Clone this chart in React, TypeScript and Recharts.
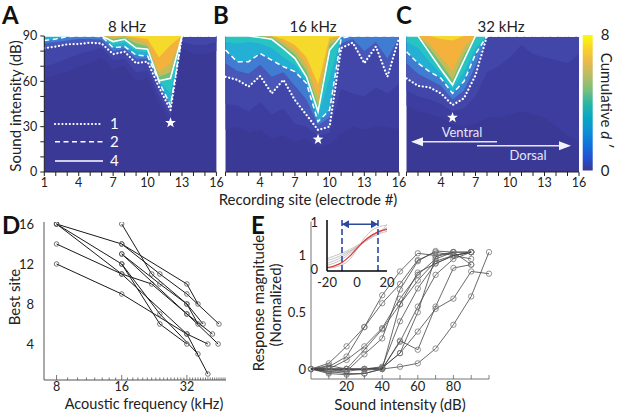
import React from 'react';
import {
  ComposedChart, Area, Line, XAxis, YAxis, Scatter, ScatterChart, BarChart, Bar, ReferenceLine,
} from 'recharts';

const FONT = "Lato, 'Open Sans', 'DejaVu Sans', sans-serif";
const INK = '#222';

// ---------- Heatmaps (A, B, C) ----------
const siteNums = [1, 2, 3, 4, 5, 6, 7, 8, 9, 10, 11, 12, 13, 14, 15, 16];
const dbTicks = [0, 10, 20, 30, 40, 50, 60, 70, 80, 90];
const dbLabels = [0, 30, 60, 90];
const siteLabelsA = [1, 4, 7, 10, 13, 16];
const siteLabelsBC = [4, 7, 10, 13, 16];
const HEAT_TOP = 90;
const HEAT_FLOOR = 0;
// cumulative d' levels whose contour (in dB) is listed per site
const dLevels = [0.2, 0.5, 1, 1.5, 2, 3, 4, 5, 6, 7];
const baseFill = '#3a3996';
const levelFills = ['#3d3d9f', '#4146a8', '#4857b8', '#3f7cd2', '#23b0d4', '#27c4c2', '#6dc07e', '#c4bc58', '#f4b23c', '#f5da2c'];

const contours8kHz = [
  [62, 64, 66, 70, 72, 76, 68, 70, 60, 62, 45, 33, 82, 78, 78, 80],
  [70, 72, 75, 78, 80, 82, 74, 75, 66, 67, 50, 37, 86, 84, 84, 86],
  [82, 83, 84.5, 84.7, 85.6, 85, 78, 79.6, 72, 73, 56, 41, 90, 90, 90, 90],
  [85, 86, 87, 88, 88, 87.5, 80, 81.5, 75, 75, 58, 42.5, 90, 90, 90, 90],
  [87, 88, 89.6, 90, 90, 89.6, 82.3, 83, 77.4, 76.8, 59.7, 44, 90, 90, 90, 90],
  [90, 90, 90, 90, 90, 90, 84, 85.5, 80, 79, 60, 52, 90, 90, 90, 90],
  [90, 90, 90, 90, 90, 90, 86.3, 87.8, 82, 81.2, 60.4, 62, 90, 90, 90, 90],
  [90, 90, 90, 90, 90, 90, 88, 89, 85, 83, 63, 66, 90, 90, 90, 90],
  [90, 90, 90, 90, 90, 90, 89.5, 90, 88, 85, 66, 72, 90, 90, 90, 90],
  [90, 90, 90, 90, 90, 90, 90, 90, 89, 88, 76, 84, 90, 90, 90, 90],
];
const contours16kHz = [
  [28, 30, 26, 28, 22, 24, 20, 22, 16, 18, 25, 30, 28, 30, 30, 28],
  [45, 44, 40, 46, 38, 42, 32, 30, 24, 26, 55, 52, 50, 56, 52, 58],
  [63, 61, 56.5, 63.5, 52, 61, 47.6, 37.7, 27.8, 30, 82, 85.6, 72, 83, 63, 88.5],
  [72, 67, 65, 71, 63, 66, 57, 48, 31, 36, 85, 88, 80, 86, 75, 89],
  [80.7, 73, 73, 78.5, 74, 69.7, 66.4, 58.7, 33.3, 41, 88.5, 90, 90, 90, 90, 90],
  [86, 85, 86, 85, 82, 76, 71, 61, 37, 62, 90, 90, 90, 90, 90, 90],
  [90, 90, 90, 89, 87.8, 81.8, 75.2, 63, 40, 80.7, 90, 90, 90, 90, 90, 90],
  [90, 90, 90, 90, 89, 84, 78, 67, 44, 84, 90, 90, 90, 90, 90, 90],
  [90, 90, 90, 90, 90, 86, 81, 71, 50, 87, 90, 90, 90, 90, 90, 90],
  [90, 90, 90, 90, 90, 88, 84, 76, 58, 89, 90, 90, 90, 90, 90, 90],
];
const contours32kHz = [
  [44, 40, 38, 36, 32, 30, 32, 36, 36, 38, 40, 38, 36, 30, 24, 20],
  [54, 50, 48, 45, 40, 42, 50, 66, 70, 76, 84, 78, 76, 74, 72, 78],
  [62, 57, 56, 52, 44.3, 48.8, 64, 90, 90, 90, 90, 90, 90, 90, 90, 90],
  [72, 65, 61, 57, 48, 54, 70, 90, 90, 90, 90, 90, 90, 90, 90, 90],
  [79.6, 72, 66.4, 62, 52, 60, 78, 90, 90, 90, 90, 90, 90, 90, 90, 90],
  [86, 82, 73, 65, 55, 66, 82, 90, 90, 90, 90, 90, 90, 90, 90, 90],
  [90, 90, 79, 68, 57.6, 74, 90, 90, 90, 90, 90, 90, 90, 90, 90, 90],
  [90, 90, 82, 72, 61, 78, 90, 90, 90, 90, 90, 90, 90, 90, 90, 90],
  [90, 90, 85, 76, 67, 83, 90, 90, 90, 90, 90, 90, 90, 90, 90, 90],
  [90, 90, 90, 88, 87, 90, 90, 90, 90, 90, 90, 90, 90, 90, 90, 90],
];
const bestSite8kHz = [{ site: 12, db: 32.6 }];
const bestSite16kHz = [{ site: 9, db: 21.6 }];
const bestSite32kHz = [{ site: 5, db: 36 }];

const cbarMax = 8;
const cbarTicks = [0, 8];
const parulaStops = ['#3a3996', '#2053d4', '#0d75dc', '#0c93d2', '#07a9c2', '#2eb7a4', '#7cbf7b', '#b7bd64', '#e9b94e', '#f9d32a', '#f9fb0e'];

// ---------- Panel D ----------
const freqMajor = [8, 16, 32];
const freqTicks = [8, 9, 10, 11, 12, 13, 14, 15, 16, 17, 18, 19, 20, 21, 22, 23, 24, 25, 26, 27, 28, 29, 30, 31, 32, 33, 34, 35, 36, 37, 38, 39, 40, 41, 42, 43, 44, 45, 46, 47, 48];
const bestSiteTicks = [4, 8, 12, 16];
const bestSiteTracks: number[][][] = [
  [[8, 16], [16, 14], [32, 10], [36, 8]],
  [[8, 16], [16, 12], [24, 7], [36, 3]],
  [[8, 16], [16, 11], [32, 5], [40, 1]],
  [[8, 14], [16, 11], [22, 10], [32, 7], [44.6, 4]],
  [[8, 12], [16, 9], [32, 5], [40, 4]],
  [[16, 16], [22, 11], [32, 8], [38, 6]],
  [[16, 14], [24, 11], [32, 9], [45, 6]],
  [[16, 13], [24, 10], [32, 8], [36, 6]],
  [[16, 13], [32, 7], [42, 5]],
  [[16, 12], [24, 6], [32, 4]],
];

// ---------- Panel E ----------
const intensityDb = [0, 10, 20, 30, 40, 50, 60, 70, 80, 90, 100];
const intensityTicks = [10, 20, 30, 40, 50, 60, 70, 80, 90, 100];
const intensityLabels = [20, 40, 60, 80];
const responseTicks = [0, 0.5, 1];
const responseCurves: (number | null)[][] = [
  [0, 0.05, 0.2, 0.37, 0.58, 0.75, 0.96, 1.03, 1.0, 1.03, null],
  [0, 0.02, 0.11, 0.37, 0.65, 0.86, 1.02, 1.0, 1.03, null, null],
  [0, 0.0, 0.08, 0.2, 0.36, 0.62, 0.83, 0.97, 1.03, 1.03, null],
  [0, -0.02, 0.0, 0.17, 0.35, 0.57, 0.78, 0.95, 1.0, 1.03, null],
  [0, 0.0, -0.02, 0.13, 0.27, 0.7, 0.95, 1.04, 1.03, 1.03, null],
  [0, -0.03, -0.02, 0.0, 0.02, 0.42, 0.71, 0.93, 1.0, 1.03, null],
  [0, -0.04, -0.05, -0.04, 0.0, 0.24, 0.55, 0.83, 0.97, 1.03, null],
  [0, 0.0, 0.0, 0.0, 0.01, 0.14, 0.5, 0.99, 1.03, 0.92, null],
  [0, 0.0, 0.0, 0.0, 0.01, 0.14, 0.33, 0.53, 0.62, 0.86, 0.84],
  [0, -0.02, -0.04, -0.04, 0.0, 0.25, 0.17, 0.55, 0.89, 0.92, null],
  [0, 0.0, 0.0, 0.0, 0.0, 0.02, 0.05, 0.18, 0.39, 0.64, 1.03],
  [0, 0.03, 0.0, -0.01, 0.0, 0.57, 0.85, 0.93, 1.0, 0.97, null],
];

// inset
const insetX = [-20, -15, -10, -5, 0, 5, 10, 15, 20];
const insetMean = [0.03, 0.07, 0.14, 0.27, 0.44, 0.6, 0.72, 0.8, 0.84];
const insetGray = [
  [0.08, 0.13, 0.21, 0.33, 0.46, 0.6, 0.72, 0.81, 0.86],
  [0.18, 0.23, 0.3, 0.38, 0.47, 0.57, 0.67, 0.75, 0.8],
  [0.02, 0.04, 0.09, 0.2, 0.42, 0.66, 0.82, 0.9, 0.93],
  [0.12, 0.18, 0.26, 0.36, 0.48, 0.6, 0.7, 0.78, 0.88],
  [0.22, 0.28, 0.34, 0.41, 0.5, 0.59, 0.68, 0.76, 0.95],
];
const insetXTicks = [-20, 0, 20];
const insetYTicks = [0, 1];
const insetRange = [-10, 14];
const insetArrowLevel = 0.95;

// ---------- helpers ----------
function buildHeatRows(contours: number[][]) {
  return siteNums.map((s, i) => {
    const row: any = { site: s, base: [HEAT_FLOOR, HEAT_TOP] };
    contours.forEach((arr, k) => { row['b' + k] = [arr[i], HEAT_TOP]; });
    row.dotted = contours[dLevels.indexOf(1)][i];
    row.dashed = contours[dLevels.indexOf(2)][i];
    row.solid = contours[dLevels.indexOf(4)][i];
    return row;
  });
}

const StarShape = (props: any) => {
  const { cx, cy } = props;
  if (cx == null || cy == null) return <g />;
  const R = 5.6, r = 2.3;
  const pts: string[] = [];
  for (let i = 0; i < 10; i++) {
    const a = -Math.PI / 2 + (i * Math.PI) / 5;
    const rad = i % 2 === 0 ? R : r;
    pts.push(`${cx + rad * Math.cos(a)},${cy + rad * Math.sin(a)}`);
  }
  return <polygon points={pts.join(' ')} fill="#fff" />;
};

const HollowDot = (props: any) => {
  const { cx, cy } = props;
  if (cx == null || cy == null) return <g />;
  return <circle cx={cx} cy={cy} r={props.rr || 2.4} fill="none" stroke={props.sc || '#555'} strokeWidth={0.8} />;
};

const ArrowHead = (props: any) => {
  const { cx, cy, payload } = props;
  if (cx == null || cy == null) return <g />;
  const d = payload.dir;
  const base = cx - d * 7;
  return <polygon points={`${cx},${cy} ${base},${cy - 4} ${base},${cy + 4}`} fill="#2b4a9e" />;
};

function Heatmap(props: { left: number; width: number; mLeft: number; mRight: number; contours: number[][]; star: any[]; showY: boolean; labels: number[] }) {
  const rows = buildHeatRows(props.contours);
  return (
    <div style={{ position: 'absolute', left: props.left, top: 0 }}>
      <ComposedChart width={props.width} height={200} data={rows}
        margin={{ top: 36, right: props.mRight, bottom: 8, left: props.mLeft }}>
        <Area dataKey="base" type="linear" fill={baseFill} fillOpacity={1} stroke="none" dot={false} activeDot={false} isAnimationActive={false} />
        {dLevels.map((lv, i) => (
          <Area key={lv} dataKey={'b' + i} type="linear" fill={levelFills[i]} fillOpacity={1} stroke="none" dot={false} activeDot={false} isAnimationActive={false} />
        ))}
        <Line dataKey="dotted" type="linear" stroke="#fff" strokeWidth={2.2} strokeDasharray="0.1 3.6" strokeLinecap="round" dot={false} activeDot={false} isAnimationActive={false} />
        <Line dataKey="dashed" type="linear" stroke="#fff" strokeWidth={1.5} strokeDasharray="5 3.5" dot={false} activeDot={false} isAnimationActive={false} />
        <Line dataKey="solid" type="linear" stroke="#fff" strokeWidth={1.6} dot={false} activeDot={false} isAnimationActive={false} />
        <Scatter data={props.star} dataKey="db" shape={StarShape} isAnimationActive={false} />
        <XAxis type="number" dataKey="site" domain={[1, 16]} ticks={siteNums} interval={0} height={20}
          tickSize={4} tickMargin={2} stroke={INK} tick={{ fontSize: 12.5, fill: INK }}
          tickFormatter={(v: number) => (props.labels.includes(v) ? String(v) : '')} />
        <YAxis type="number" domain={[0, 90]} ticks={dbTicks} interval={0} width={30} hide={!props.showY}
          tickSize={4} tickMargin={3} stroke={INK} tick={{ fontSize: 12.5, fill: INK }}
          tickFormatter={(v: number) => (dbLabels.includes(v) ? String(v) : '')} />
      </ComposedChart>
    </div>
  );
}

const FreqTick = (props: any) => {
  const { x, y, payload } = props;
  const major = freqMajor.includes(payload.value);
  return (
    <g>
      <line x1={x} x2={x} y1={y} y2={y - (major ? 5 : 2.5)} stroke="#555" strokeWidth={0.8} />
      {major && <text x={x} y={y + 11} textAnchor="middle" fontSize={12.5} fill={INK}>{payload.value}</text>}
    </g>
  );
};

const IntensityTick = (props: any) => {
  const { x, y, payload } = props;
  const lab = intensityLabels.includes(payload.value);
  return (
    <g>
      <line x1={x} x2={x} y1={y} y2={y - 4} stroke="#666" strokeWidth={0.8} />
      {lab && <text x={x} y={y + 12} textAnchor="middle" fontSize={13} fill={INK}>{payload.value}</text>}
    </g>
  );
};

const ResponseTick = (props: any) => {
  const { x, y, payload } = props;
  return <text x={x} y={y + 4.5} textAnchor="end" fontSize={13} fill={INK}>{String(payload.value)}</text>;
};

export default function App() {
  const insetRows = insetX.map((x, i) => {
    const r: any = { x, mean: insetMean[i] };
    insetGray.forEach((g, k) => { r['g' + k] = g[i]; });
    return r;
  });
  const arrowPts = [
    { x: insetRange[0], y: insetArrowLevel, dir: -1 },
    { x: insetRange[1], y: insetArrowLevel, dir: 1 },
  ];
  const cbarData = [{ name: 'cbar', v: cbarMax }];

  return (
    <div style={{ position: 'absolute', left: 0, top: 0, width: 617, height: 414, background: '#fff', overflow: 'hidden', fontFamily: FONT }}>
      <Heatmap left={0} width={232} mLeft={14.3} mRight={15.6} contours={contours8kHz} star={bestSite8kHz} showY={true} labels={siteLabelsA} />
      <Heatmap left={200} width={215} mLeft={25.5} mRight={16} contours={contours16kHz} star={bestSite16kHz} showY={false} labels={siteLabelsBC} />
      <Heatmap left={400} width={195} mLeft={6.5} mRight={16} contours={contours32kHz} star={bestSite32kHz} showY={false} labels={siteLabelsBC} />

      {/* colorbar */}
      <div style={{ position: 'absolute', left: 575, top: 0 }}>
        <BarChart width={42} height={200} data={cbarData} margin={{ top: 35, right: 8.3, bottom: 29.5, left: 7.7 }} barCategoryGap={0}>
          <defs>
            <linearGradient id="parulaGrad" x1="0" y1="1" x2="0" y2="0">
              {parulaStops.map((c, i) => <stop key={i} offset={`${(i / (parulaStops.length - 1)) * 100}%`} stopColor={c} />)}
            </linearGradient>
          </defs>
          <XAxis dataKey="name" hide />
          <YAxis orientation="right" type="number" domain={[0, cbarMax]} ticks={cbarTicks} interval={0} width={16}
            tickLine={false} axisLine={false} tickMargin={2} tick={{ fontSize: 15, fill: INK, textAnchor: 'start' }} />
          <Bar dataKey="v" fill="url(#parulaGrad)" isAnimationActive={false} />
        </BarChart>
      </div>

      {/* Panel D */}
      <div style={{ position: 'absolute', left: 0, top: 200 }}>
        <ScatterChart width={240} height={214} margin={{ top: 22, right: 14, bottom: 10, left: 14 }}>
          <XAxis type="number" dataKey="x" scale="log" domain={[7, 48.5]} allowDataOverflow ticks={freqTicks} interval={0}
            height={24} tickSize={0} tickMargin={0} tickLine={false} tick={<FreqTick />} stroke="#555" />
          <YAxis type="number" dataKey="y" domain={[0.4, 16.2]} allowDataOverflow ticks={bestSiteTicks} interval={0} width={30}
            tickLine={false} tickMargin={4} stroke="#555" tick={{ fontSize: 13, fill: INK }} />
          {bestSiteTracks.map((tr, i) => (
            <Scatter key={i} data={tr.map(([f, s]) => ({ x: f, y: s }))} line={{ stroke: '#1a1a1a', strokeWidth: 1 }}
              shape={(p: any) => <HollowDot {...p} rr={2.3} sc="#555" />} isAnimationActive={false} />
          ))}
        </ScatterChart>
      </div>

      {/* Panel E */}
      <div style={{ position: 'absolute', left: 250, top: 200 }}>
        <ScatterChart width={367} height={214} margin={{ top: 21.5, right: 128, bottom: 11, left: 31 }}>
          <XAxis type="number" dataKey="x" domain={[0, 100]} ticks={intensityTicks} interval={0}
            height={24} tickSize={0} tickMargin={0} tickLine={false} tick={<IntensityTick />} stroke="#777" />
          <YAxis type="number" dataKey="y" domain={[-0.088, 1.3]} allowDataOverflow ticks={responseTicks} interval={0} width={30}
            tickLine={false} tickSize={0} tickMargin={5} stroke="#777" tick={<ResponseTick />} />
          {responseCurves.map((c, i) => (
            <Scatter key={i}
              data={intensityDb.map((x, k) => ({ x, y: c[k] })).filter((p) => p.y !== null)}
              line={{ stroke: '#444', strokeWidth: 0.8 }}
              shape={(p: any) => <HollowDot {...p} rr={2.7} sc="#777" />} isAnimationActive={false} />
          ))}
        </ScatterChart>
      </div>

      {/* Inset */}
      <div style={{ position: 'absolute', left: 300, top: 205 }}>
        <ComposedChart width={104} height={85} data={insetRows} margin={{ top: 15, right: 17, bottom: 3, left: 17 }}>
          {insetGray.map((_, k) => (
            <Line key={k} dataKey={'g' + k} type="monotone" stroke="#c4c4c4" strokeWidth={1} dot={false} activeDot={false} isAnimationActive={false} />
          ))}
          <Line dataKey="mean" type="monotone" stroke="#e03a3a" strokeWidth={1.3} dot={false} activeDot={false} isAnimationActive={false} />
          {insetRange.map((v) => (
            <ReferenceLine key={v} x={v} stroke="#2b4a9e" strokeWidth={1.6} strokeDasharray="6 3" />
          ))}
          <Scatter data={arrowPts} dataKey="y" line={{ stroke: '#2b4a9e', strokeWidth: 1.5 }} shape={ArrowHead} isAnimationActive={false} />
          <XAxis type="number" dataKey="x" domain={[-20, 20]} ticks={insetXTicks} interval={0} height={16}
            tickLine={false} tickMargin={1} axisLine={{ stroke: '#000', strokeWidth: 1.5 }} tick={{ fontSize: 13, fill: INK }} />
          <YAxis type="number" domain={[-0.04, 1.04]} ticks={insetYTicks} interval={0} width={10}
            tickLine={false} tickMargin={3} axisLine={{ stroke: '#000', strokeWidth: 1.5 }} tick={{ fontSize: 13, fill: INK }} />
        </ComposedChart>
      </div>

      {/* Overlay: labels, legend, arrows */}
      <svg width={617} height={414} style={{ position: 'absolute', left: 0, top: 0, pointerEvents: 'none', fontFamily: FONT }}>
        <g fill="#111" fontWeight="bold" fontSize={24}>
          <text x={2} y={24}>A</text>
          <text x={213} y={24}>B</text>
          <text x={396} y={24}>C</text>
          <text x={2} y={234}>D</text>
          <text x={251} y={234}>E</text>
        </g>
        <g fill={INK} fontSize={15} textAnchor="middle">
          <text x={127} y={32}>8 kHz</text>
          <text x={313} y={32}>16 kHz</text>
          <text x={501} y={32}>32 kHz</text>
        </g>
        <text x={308} y={205} fontSize={15} fill={INK} textAnchor="middle">Recording site (electrode #)</text>
        <text transform="translate(21,106) rotate(-90)" fontSize={15} fill={INK} textAnchor="middle">Sound intensity (dB)</text>
        <text transform="translate(601,100) rotate(90)" fontSize={15} fill={INK} textAnchor="middle">
          Cumulative <tspan fontStyle="italic">d ′</tspan>
        </text>
        {/* legend in A */}
        <g stroke="#fff">
          <line x1={55} x2={103} y1={124} y2={124} strokeWidth={2.2} strokeDasharray="0.1 3.6" strokeLinecap="round" />
          <line x1={55} x2={103} y1={141.7} y2={141.7} strokeWidth={1.5} strokeDasharray="5 3.5" />
          <line x1={55} x2={103} y1={161} y2={161} strokeWidth={1.6} />
        </g>
        <g fill="#fff" fontSize={15}>
          <text x={110} y={129}>1</text>
          <text x={110} y={147}>2</text>
          <text x={110} y={166}>4</text>
        </g>
        {/* ventral / dorsal */}
        <g stroke="#e6e6f6" strokeWidth={1.5}>
          <line x1={420} x2={497} y1={141.7} y2={141.7} />
          <line x1={477} x2={562} y1={145.7} y2={145.7} />
        </g>
        <g fill="#f2f2fa">
          <polygon points="411,141.7 423,137.2 423,146.2" />
          <polygon points="571,145.7 559,141.2 559,150.2" />
        </g>
        <g fill="#e6e6f6" fontSize={13} textAnchor="middle">
          <text x={462} y={137}>Ventral</text>
          <text x={528} y={160}>Dorsal</text>
        </g>
        {/* D labels */}
        <text transform="translate(20,297) rotate(-90)" fontSize={15} fill={INK} textAnchor="middle">Best site</text>
        <text x={144} y={408.5} fontSize={14.5} fill={INK} textAnchor="middle">Acoustic frequency (kHz)</text>
        {/* E labels */}
        <text transform="translate(264,303) rotate(-90)" fontSize={15} fill={INK} textAnchor="middle">Response magnitude</text>
        <text transform="translate(281,305) rotate(-90)" fontSize={15} fill={INK} textAnchor="middle">(Normalized)</text>
        <text x={400} y={410} fontSize={15} fill={INK} textAnchor="middle">Sound intensity (dB)</text>
      </svg>
    </div>
  );
}
